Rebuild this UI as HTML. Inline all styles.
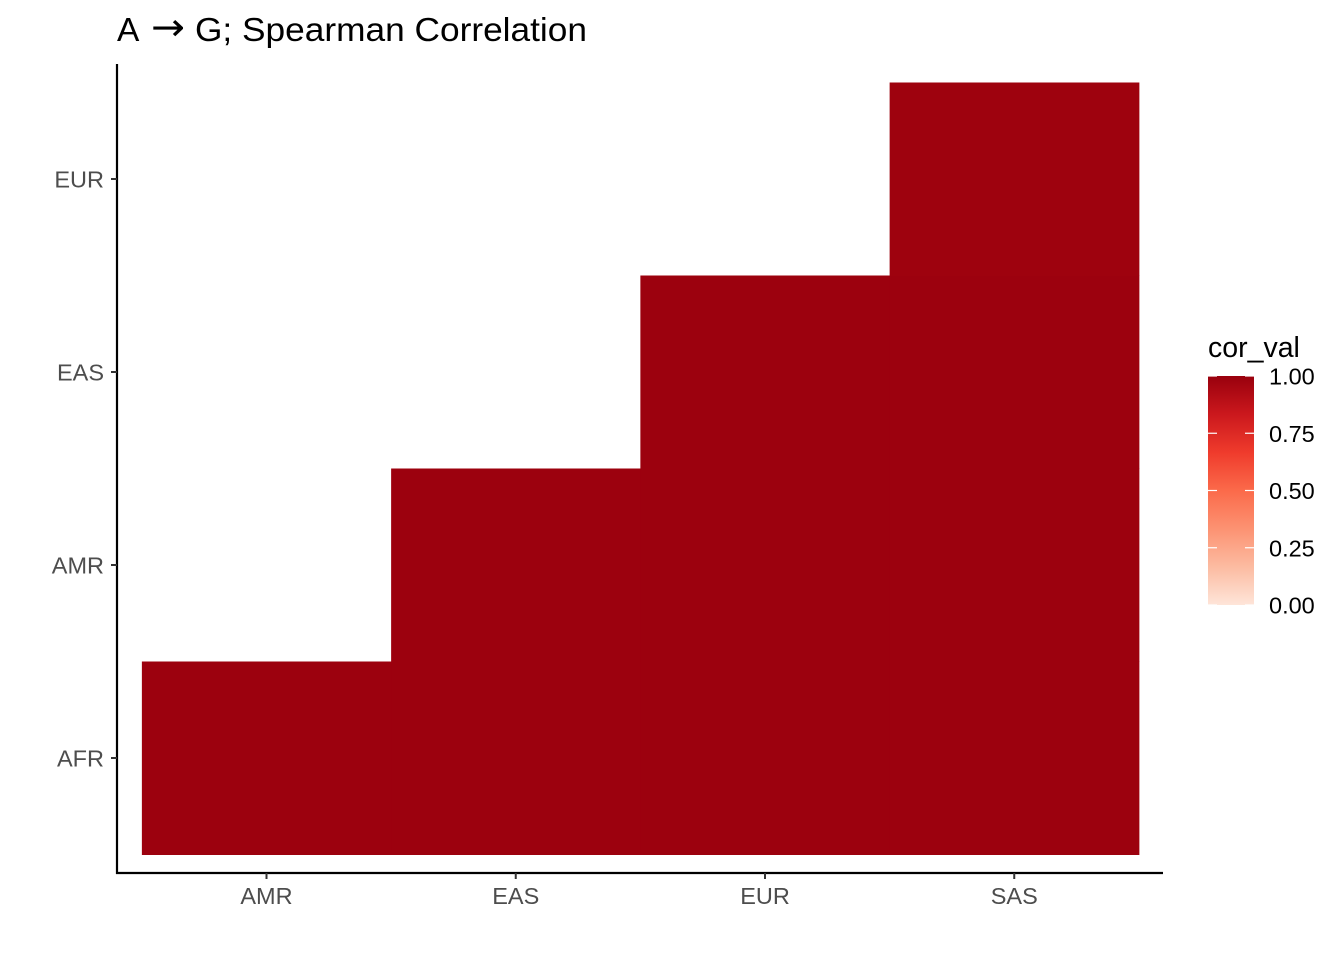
<!DOCTYPE html>
<html><head><meta charset="utf-8"><style>
body{margin:0;background:#fff;}
svg{display:block;font-family:"Liberation Sans",sans-serif;}
</style></head><body>
<svg id="chart" width="1344" height="960">
<g>
<text x="117" y="41" font-size="33.5" fill="#000">A</text>
<text x="151" y="40" font-size="38" font-family="DejaVu Sans" fill="#000" textLength="34" lengthAdjust="spacingAndGlyphs">→</text>
<text x="195" y="41" font-size="33.5" fill="#000" textLength="392" lengthAdjust="spacingAndGlyphs">G; Spearman Correlation</text>
</g>
<g id="cells"></g>
<line x1="117" y1="64" x2="117" y2="874" stroke="#000" stroke-width="2.2"/>
<line x1="116" y1="873" x2="1163" y2="873" stroke="#000" stroke-width="2.2"/>
<g id="axes"></g>
<defs><linearGradient id="grad" x1="0" y1="1" x2="0" y2="0">
<stop offset="0" stop-color="#fee5d9"/><stop offset="0.1667" stop-color="#fcbba1"/><stop offset="0.3333" stop-color="#fc9272"/><stop offset="0.5" stop-color="#fb6a4a"/><stop offset="0.6667" stop-color="#ef3b2c"/><stop offset="0.8333" stop-color="#cb181d"/><stop offset="1" stop-color="#99000d"/>
</linearGradient></defs>
<text x="1208" y="357" font-size="28.5" fill="#000">cor_val</text>
<rect x="1208" y="376" width="46" height="229" fill="url(#grad)"/>
<g id="legend"></g>
</svg>
<script>
const xCats=["AMR","EAS","EUR","SAS"];
const yCats=["AFR","AMR","EAS","EUR"];
const cellX=["AMR","EAS","EAS","EUR","EUR","EUR","SAS","SAS","SAS","SAS"];
const cellY=["AFR","AFR","AMR","AFR","AMR","EAS","AFR","AMR","EAS","EUR"];
const cellVal=[0.99,0.99,0.99,0.99,0.99,0.99,0.99,0.99,0.99,0.985];
const legendTicks=[0,0.25,0.5,0.75,1];
const legendLabels=["0.00","0.25","0.50","0.75","1.00"];

const NS="http://www.w3.org/2000/svg";
const colW=249.25, rowH=193;
const xPos=c=>266.5+xCats.indexOf(c)*colW;
const yPos=c=>758+ -yCats.indexOf(c)*rowH;
const stops=["#fee5d9","#fcbba1","#fc9272","#fb6a4a","#ef3b2c","#cb181d","#99000d"].map(h=>[1,3,5].map(i=>parseInt(h.substr(i,2),16)));
function color(v){v=Math.max(0,Math.min(1,v));const t=v*6,i=Math.min(5,Math.floor(t)),f=t-i;
 const c=stops[i].map((a,k)=>Math.round(a+(stops[i+1][k]-a)*f));return `rgb(${c})`;}
function mk(tag,attrs,parent){const e=document.createElementNS(NS,tag);for(const k in attrs)e.setAttribute(k,attrs[k]);parent.appendChild(e);return e;}
const cells=document.getElementById('cells');
cellVal.forEach((v,i)=>{
 const r=mk('rect',{x:xPos(cellX[i])-colW/2,y:yPos(cellY[i])-rowH/2,width:colW+0.5,height:rowH+0.5,fill:color(v)},cells);
 
 
});
const axes=document.getElementById('axes');
xCats.forEach(c=>{
 const x=xPos(c);
 const l=mk('line',{x1:x,y1:873,x2:x,y2:879,stroke:'#333','stroke-width':2},axes);
 
 
 const t=mk('text',{x:x,y:904,'font-size':23.5,fill:'#4d4d4d','text-anchor':'middle'},axes);
 t.textContent=c;
 
 
});
yCats.forEach(c=>{
 const y=yPos(c);
 const l=mk('line',{x1:111,y1:y,x2:117,y2:y,stroke:'#333','stroke-width':2},axes);
 
 
 const t=mk('text',{x:104,y:y+8.5,'font-size':23.5,fill:'#4d4d4d','text-anchor':'end'},axes);
 t.textContent=c;
 
 
});
const lg=document.getElementById('legend');
legendTicks.forEach((v,i)=>{
 const y=605-v*229;
 const a=mk('line',{x1:1208,y1:y,x2:1217,y2:y,stroke:'#fff','stroke-width':1.2},lg);
 
 
 const b=mk('line',{x1:1245,y1:y,x2:1254,y2:y,stroke:'#fff','stroke-width':1.2},lg);
 
 
 const t=mk('text',{x:1269,y:y+8.5,'font-size':23.5,fill:'#000'},lg);
 t.textContent=legendLabels[i];
 
 
});
</script>
</body></html>
